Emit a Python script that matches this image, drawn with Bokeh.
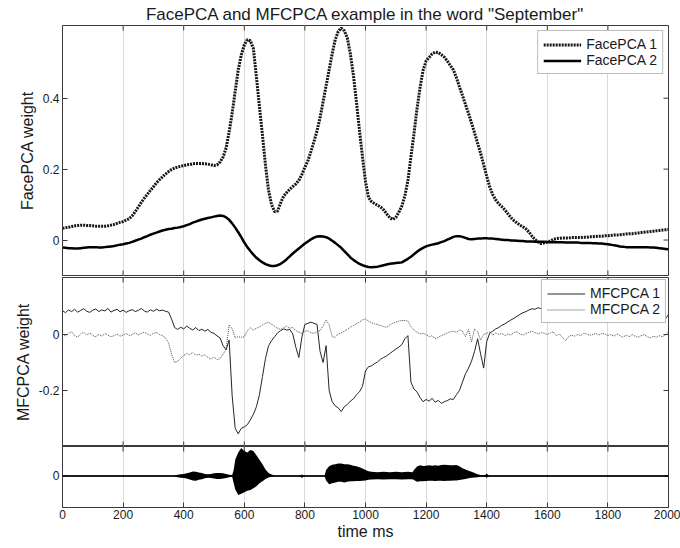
import math
from bokeh.plotting import figure
from bokeh.layouts import column
from bokeh.models import (LinearAxis, FixedTicker, Range1d, Legend, LegendItem,
                          Title, Grid, Span)
from bokeh.embed import file_html
from bokeh.resources import INLINE

# ---------------- data ----------------
time_ms = list(range(0, 2001, 10))

face_pca1 = [
    0.033, 0.035, 0.036, 0.038, 0.040, 0.041, 0.042, 0.042, 0.041, 0.041,
    0.040, 0.039, 0.039, 0.039, 0.039, 0.040, 0.042, 0.044, 0.047, 0.050,
    0.052, 0.056, 0.060, 0.068, 0.080, 0.093, 0.106, 0.118, 0.129, 0.140,
    0.150, 0.161, 0.170, 0.178, 0.186, 0.193, 0.199, 0.203, 0.206, 0.208,
    0.210, 0.212, 0.213, 0.215, 0.216, 0.216, 0.216, 0.215, 0.214, 0.212,
    0.210, 0.212, 0.220, 0.234, 0.260, 0.305, 0.358, 0.420, 0.480, 0.522,
    0.550, 0.565, 0.562, 0.540, 0.460, 0.376, 0.295, 0.210, 0.140, 0.100,
    0.080, 0.082, 0.105, 0.124, 0.134, 0.143, 0.151, 0.158, 0.168, 0.185,
    0.205, 0.224, 0.250, 0.278, 0.308, 0.345, 0.390, 0.435, 0.480, 0.525,
    0.565, 0.588, 0.598, 0.590, 0.570, 0.525, 0.465, 0.390, 0.310, 0.235,
    0.165, 0.120, 0.108, 0.103, 0.098, 0.093, 0.085, 0.074, 0.063, 0.058,
    0.064, 0.078, 0.096, 0.125, 0.168, 0.235, 0.300, 0.370, 0.430, 0.478,
    0.505, 0.515, 0.525, 0.530, 0.529, 0.523, 0.516, 0.505, 0.492, 0.480,
    0.458, 0.432, 0.408, 0.382, 0.357, 0.330, 0.302, 0.273, 0.245, 0.212,
    0.180, 0.150, 0.128, 0.113, 0.102, 0.094, 0.085, 0.074, 0.063, 0.055,
    0.048, 0.042, 0.037, 0.031, 0.022, 0.010, 0.001, -0.006, -0.010, -0.008,
    -0.005, -0.003, 0.002, 0.004, 0.005, 0.006, 0.006, 0.006, 0.007, 0.007,
    0.007, 0.007, 0.008, 0.008, 0.009, 0.009, 0.010, 0.011, 0.011, 0.012,
    0.012, 0.013, 0.014, 0.014, 0.015, 0.016, 0.017, 0.018, 0.018, 0.019,
    0.020, 0.021, 0.022, 0.023, 0.024, 0.025, 0.026, 0.027, 0.028, 0.029,
    0.030,
]

face_pca2 = [
    -0.021, -0.022, -0.023, -0.023, -0.024, -0.024, -0.023, -0.022, -0.021, -0.020,
    -0.020, -0.020, -0.021, -0.021, -0.020, -0.019, -0.018, -0.017, -0.015, -0.013,
    -0.012, -0.010, -0.008, -0.005, -0.002, 0.001, 0.004, 0.008, 0.011, 0.015,
    0.018, 0.021, 0.024, 0.027, 0.029, 0.031, 0.032, 0.034, 0.035, 0.037,
    0.039, 0.042, 0.045, 0.049, 0.052, 0.055, 0.058, 0.060, 0.062, 0.064,
    0.066, 0.068, 0.069, 0.068, 0.064, 0.057, 0.047, 0.035, 0.022, 0.008,
    -0.007, -0.020, -0.031, -0.041, -0.050, -0.057, -0.063, -0.068, -0.071, -0.073,
    -0.073, -0.071, -0.067, -0.061, -0.054, -0.046, -0.038, -0.031, -0.024, -0.017,
    -0.010, -0.004, 0.002, 0.007, 0.010, 0.011, 0.010, 0.008, 0.004, -0.002,
    -0.008, -0.015, -0.022, -0.031, -0.040, -0.049, -0.056, -0.062, -0.067, -0.071,
    -0.074, -0.076, -0.077, -0.076, -0.075, -0.073, -0.071, -0.069, -0.067, -0.066,
    -0.065, -0.064, -0.063, -0.058, -0.053, -0.047, -0.040, -0.033, -0.027, -0.022,
    -0.018, -0.015, -0.013, -0.011, -0.009, -0.006, -0.003, 0.001, 0.005, 0.009,
    0.011, 0.011, 0.009, 0.006, 0.003, 0.002, 0.003, 0.004, 0.004, 0.005,
    0.005, 0.004, 0.004, 0.003, 0.002, 0.001, 0.000, 0.000, -0.001, -0.001,
    -0.002, -0.003, -0.003, -0.004, -0.004, -0.004, -0.005, -0.005, -0.005, -0.005,
    -0.006, -0.006, -0.006, -0.006, -0.006, -0.006, -0.007, -0.007, -0.007, -0.007,
    -0.007, -0.008, -0.008, -0.008, -0.008, -0.009, -0.009, -0.010, -0.010, -0.011,
    -0.012, -0.013, -0.015, -0.016, -0.018, -0.019, -0.020, -0.020, -0.020, -0.020,
    -0.020, -0.020, -0.020, -0.020, -0.021, -0.021, -0.022, -0.023, -0.024, -0.025,
    -0.026,
]

mfc_pca1 = [
    0.085, 0.078, 0.088, 0.082, 0.090, 0.080, 0.086, 0.092, 0.083, 0.079,
    0.087, 0.091, 0.082, 0.088, 0.084, 0.093, 0.080, 0.086, 0.090, 0.081,
    0.087, 0.079, 0.085, 0.089, 0.082, 0.086, 0.093, 0.084, 0.080, 0.088,
    0.083, 0.090, 0.085, 0.087, 0.083, 0.080, 0.055, 0.025, 0.018, 0.026,
    0.020, 0.030, 0.022, 0.016, 0.025, 0.014, 0.019, 0.012, 0.018, 0.008,
    0.004, -0.005, -0.012, -0.040, -0.055, -0.020, -0.220, -0.335, -0.355, -0.335,
    -0.330, -0.322, -0.305, -0.285, -0.258, -0.215, -0.150, -0.085, -0.040, -0.022,
    -0.008, 0.006, 0.014, 0.020, 0.016, 0.018, 0.002, -0.045, -0.082, -0.010,
    0.036, 0.040, 0.044, 0.040, 0.036, -0.060, -0.100, -0.040, -0.200, -0.240,
    -0.255, -0.262, -0.275, -0.258, -0.250, -0.238, -0.230, -0.215, -0.205, -0.185,
    -0.130, -0.115, -0.112, -0.104, -0.098, -0.088, -0.082, -0.076, -0.068, -0.060,
    -0.052, -0.045, -0.036, -0.015, -0.004, -0.170, -0.195, -0.205, -0.225, -0.240,
    -0.232, -0.238, -0.228, -0.242, -0.235, -0.246, -0.240, -0.236, -0.230, -0.232,
    -0.215, -0.200, -0.170, -0.140, -0.120, -0.095, -0.060, -0.015, -0.070, -0.120,
    -0.025, 0.005, 0.012, 0.020, 0.025, 0.033, 0.038, 0.045, 0.052, 0.058,
    0.065, 0.072, 0.078, 0.082, 0.088, 0.092, 0.090, 0.096, 0.092, 0.098,
    0.094, 0.099, 0.095, 0.100, 0.096, 0.093, 0.098, 0.094, 0.100, 0.096,
    0.092, 0.097, 0.093, 0.099, 0.095, 0.091, 0.096, 0.100, 0.094, 0.097,
    0.093, 0.098, 0.094, 0.090, 0.096, 0.092, 0.097, 0.093, 0.099, 0.095,
    0.091, 0.096, 0.092, 0.098, 0.094, 0.095, 0.090, 0.075, 0.060, 0.056,
    0.072,
]

mfc_pca2 = [
    0.002, -0.006, 0.004, 0.010, -0.004, -0.010, 0.002, 0.008, -0.002, 0.006,
    -0.004, -0.008, 0.000, -0.006, 0.004, -0.002, -0.008, -0.004, 0.002, -0.006,
    -0.002, 0.004, -0.004, 0.000, 0.006, -0.002, 0.004, 0.008, 0.002, -0.003,
    0.004, 0.007, 0.000, -0.004, -0.012, -0.030, -0.070, -0.100, -0.096, -0.085,
    -0.075, -0.068, -0.072, -0.064, -0.074, -0.070, -0.078, -0.072, -0.082, -0.088,
    -0.080, -0.090, -0.086, -0.070, -0.052, 0.035, 0.020, -0.012, -0.008, -0.010,
    -0.008, 0.014, 0.024, 0.016, 0.022, 0.028, 0.034, 0.040, 0.044, 0.036,
    0.030, 0.022, 0.018, 0.024, 0.030, 0.022, 0.026, 0.014, 0.008, 0.004,
    0.012, 0.014, 0.006, 0.004, 0.010, 0.014, 0.030, 0.052, 0.035, -0.008,
    -0.010, 0.002, 0.006, 0.012, 0.018, 0.026, 0.032, 0.038, 0.044, 0.052,
    0.056, 0.048, 0.042, 0.038, 0.036, 0.032, 0.028, 0.026, 0.034, 0.040,
    0.044, 0.048, 0.050, 0.050, 0.048, 0.028, 0.016, 0.008, 0.002, 0.004,
    0.000, -0.008, -0.004, -0.015, -0.010, -0.004, 0.000, 0.006, 0.010, 0.012,
    0.008, 0.016, 0.012, -0.008, 0.018, -0.027, 0.020, 0.010, -0.020, 0.000,
    0.004, 0.010, -0.002, 0.006, 0.000, 0.004, -0.004, 0.002, -0.002, 0.006,
    0.010, 0.002, -0.002, 0.004, 0.008, 0.012, 0.006, 0.002, 0.008, 0.004,
    0.000, 0.006, 0.010, -0.004, 0.002, -0.010, -0.022, -0.008, -0.002, -0.006,
    0.000, -0.004, 0.004, 0.002, -0.003, 0.000, 0.004, -0.002, 0.004, 0.002,
    -0.004, 0.000, -0.006, 0.002, -0.004, -0.010, -0.002, -0.008, 0.000, -0.006,
    -0.010, -0.004, 0.000, -0.008, -0.012, -0.006, -0.010, -0.004, -0.008, -0.002,
    0.010,
]

# audio waveform envelope (upper / lower), normalised amplitude
wave_t = [0, 370, 380, 390, 400, 410, 420, 430, 440, 450, 460, 470, 480, 490, 500,
          510, 520, 530, 540, 550, 560, 565, 570, 580, 590, 600, 610, 620, 630, 640,
          650, 660, 670, 680, 690, 700, 785, 790, 795, 865, 870, 880, 890, 900, 910,
          920, 930, 940, 950, 960, 970, 980, 990, 1000, 1010, 1020, 1040, 1060, 1080,
          1100, 1120, 1140, 1155, 1160, 1170, 1180, 1190, 1200, 1210, 1220, 1230, 1240,
          1250, 1260, 1270, 1280, 1290, 1300, 1310, 1320, 1330, 1340, 1350, 1360, 1370,
          1380, 1395, 1400, 1405, 1410, 2000]
wave_upper = [0.02, 0.02, 0.04, 0.06, 0.07, 0.09, 0.12, 0.15, 0.14, 0.12, 0.10, 0.07, 0.06, 0.07, 0.09,
              0.10, 0.10, 0.09, 0.07, 0.04, 0.03, 0.20, 0.55, 0.80, 0.95, 0.85, 0.80, 0.88, 0.85, 0.70,
              0.55, 0.40, 0.22, 0.10, 0.05, 0.02, 0.02, 0.05, 0.02, 0.02, 0.20, 0.33, 0.38, 0.40, 0.42,
              0.42, 0.40, 0.40, 0.38, 0.35, 0.33, 0.30, 0.25, 0.20, 0.16, 0.14, 0.13, 0.14, 0.13,
              0.14, 0.13, 0.14, 0.13, 0.20, 0.32, 0.36, 0.34, 0.35, 0.36, 0.35, 0.36, 0.35,
              0.37, 0.38, 0.37, 0.36, 0.36, 0.37, 0.33, 0.26, 0.22, 0.18, 0.14, 0.10, 0.06,
              0.03, 0.03, 0.08, 0.03, 0.02, 0.02]
wave_lower = [-0.02, -0.02, -0.04, -0.06, -0.07, -0.09, -0.12, -0.15, -0.16, -0.13, -0.11, -0.08, -0.06, -0.07, -0.09,
              -0.10, -0.10, -0.09, -0.07, -0.04, -0.03, -0.25, -0.45, -0.65, -0.60, -0.55, -0.50, -0.48, -0.42, -0.35,
              -0.25, -0.18, -0.10, -0.05, -0.03, -0.02, -0.02, -0.07, -0.02, -0.02, -0.15, -0.28, -0.25, -0.22, -0.20,
              -0.20, -0.22, -0.20, -0.18, -0.18, -0.17, -0.17, -0.16, -0.15, -0.13, -0.12, -0.11, -0.12, -0.11,
              -0.11, -0.12, -0.11, -0.11, -0.14, -0.20, -0.18, -0.18, -0.17, -0.16, -0.16, -0.17, -0.16,
              -0.16, -0.17, -0.16, -0.16, -0.15, -0.15, -0.14, -0.12, -0.10, -0.08, -0.06, -0.05, -0.04,
              -0.03, -0.03, -0.06, -0.03, -0.02, -0.02]

x_ticks = [0, 200, 400, 600, 800, 1000, 1200, 1400, 1600, 1800, 2000]
face_ticks = [0, 0.2, 0.4]
face_tick_labels = {0: "0", 0.2: "0.2", 0.4: "0.4"}
mfc_ticks = [-0.2, 0]
mfc_tick_labels = {-0.2: "-0.2", 0: "0"}
wave_ticks = [0]
wave_tick_labels = {0: "0"}

title_text = 'FacePCA and MFCPCA example in the word "September"'

# ---------------- styling helpers ----------------
FONT = "Liberation Sans"
AX = "#3a3a3a"
TXT = "#1a1a1a"
W = 680
X0, X1 = 0, 2000


def base_fig(height, yr, top, bottom):
    p = figure(width=W, height=height, x_range=Range1d(X0, X1), y_range=Range1d(*yr),
               x_axis_type=None, y_axis_type=None, output_backend="svg",
               toolbar_location=None, min_border_left=62, min_border_right=12,
               min_border_top=top, min_border_bottom=bottom)
    p.outline_line_color = AX
    p.outline_line_width = 1
    p.background_fill_color = "white"
    p.border_fill_color = "white"
    p.add_layout(Grid(dimension=0, ticker=FixedTicker(ticks=x_ticks),
                      grid_line_color="#d9d9d9", grid_line_width=1))
    return p


def inner_ticks(p, yr, yticks, top=True, bottom=True):
    # MATLAB-style inward ticks on the top / bottom / right edges of the box
    n = len(x_ticks)
    if top:
        p.ray(x=x_ticks, y=[yr[1]] * n, length=5, length_units="screen",
              angle=-math.pi / 2, line_color=AX, line_width=1)
    if bottom:
        p.ray(x=x_ticks, y=[yr[0]] * n, length=5, length_units="screen",
              angle=math.pi / 2, line_color=AX, line_width=1)
    p.ray(x=[X1] * len(yticks), y=yticks, length=5, length_units="screen",
          angle=math.pi, line_color=AX, line_width=1)


def add_axis(p, place, ticks, overrides=None, label=None, standoff=3):
    ax = LinearAxis(ticker=FixedTicker(ticks=ticks))
    ax.major_tick_in = 5
    ax.major_tick_out = 0
    ax.minor_tick_line_color = None
    ax.axis_line_color = AX
    ax.major_tick_line_color = AX
    ax.major_label_text_font = FONT
    ax.major_label_text_font_size = "12px"
    ax.major_label_text_color = TXT
    ax.major_label_standoff = standoff
    if overrides:
        ax.major_label_overrides = overrides
    if label:
        ax.axis_label = label
        ax.axis_label_text_font = FONT
        ax.axis_label_text_font_size = "16px"
        ax.axis_label_text_font_style = "normal"
        ax.axis_label_text_color = TXT
        ax.axis_label_standoff = 4
    p.add_layout(ax, place)
    return ax


def style_legend(leg, margin):
    leg.location = "top_right"
    leg.label_text_font = FONT
    leg.label_text_font_size = "14px"
    leg.label_text_color = TXT
    leg.glyph_width = 38
    leg.glyph_height = 13
    leg.label_height = 13
    leg.label_standoff = 5
    leg.padding = 5
    leg.spacing = 0
    leg.margin = margin
    leg.border_line_color = "#7a7a7a"
    leg.border_line_width = 1
    leg.background_fill_color = "white"
    leg.background_fill_alpha = 1


# ---------------- top panel: FacePCA ----------------
yr1 = (-0.1, 0.605)
p1 = base_fig(276, yr1, 24, 1)
p1.title = Title(text=title_text, align="center", text_font=FONT, text_font_size="17px",
                 text_font_style="normal", text_color=TXT, standoff=4)
add_axis(p1, "left", face_ticks, face_tick_labels, label="FacePCA weight")
inner_ticks(p1, yr1, face_ticks)
r_f1 = p1.line(time_ms, face_pca1, line_color="#151515", line_width=3, line_dash="2 1")
r_f2 = p1.line(time_ms, face_pca2, line_color="black", line_width=2.5)
leg1 = Legend(items=[LegendItem(label="FacePCA 1", renderers=[r_f1]),
                     LegendItem(label="FacePCA 2", renderers=[r_f2])])
style_legend(leg1, 5)
p1.add_layout(leg1)

# ---------------- middle panel: MFCPCA ----------------
yr2 = (-0.4, 0.2036)
p2 = base_fig(170, yr2, 1, 0)
add_axis(p2, "left", mfc_ticks, mfc_tick_labels, label="MFCPCA weight")
inner_ticks(p2, yr2, mfc_ticks)
r_m1 = p2.line(time_ms, mfc_pca1, line_color="#262626", line_width=1)
r_m2 = p2.line(time_ms, mfc_pca2, line_color="#505050", line_width=1, line_dash="1 1")
leg2 = Legend(items=[LegendItem(label="MFCPCA 1", renderers=[r_m1]),
                     LegendItem(label="MFCPCA 2", renderers=[r_m2])])
style_legend(leg2, 2)
p2.add_layout(leg2)

# ---------------- bottom panel: waveform ----------------
yr3 = (-1.07, 1.0)
p3 = base_fig(101, yr3, 0, 40)
add_axis(p3, "left", wave_ticks, wave_tick_labels)
inner_ticks(p3, yr3, wave_ticks, top=True, bottom=False)
ax_b = add_axis(p3, "below", x_ticks, label="time ms", standoff=2)
ax_b.axis_label_standoff = 1
p3.varea(x=wave_t, y1=wave_lower, y2=wave_upper, fill_color="black")
p3.add_layout(Span(location=0, dimension="width", line_color="black", line_width=1.5))

layout = column(p1, p2, p3, spacing=0)

open("out.html", "w").write(file_html(layout, INLINE))
